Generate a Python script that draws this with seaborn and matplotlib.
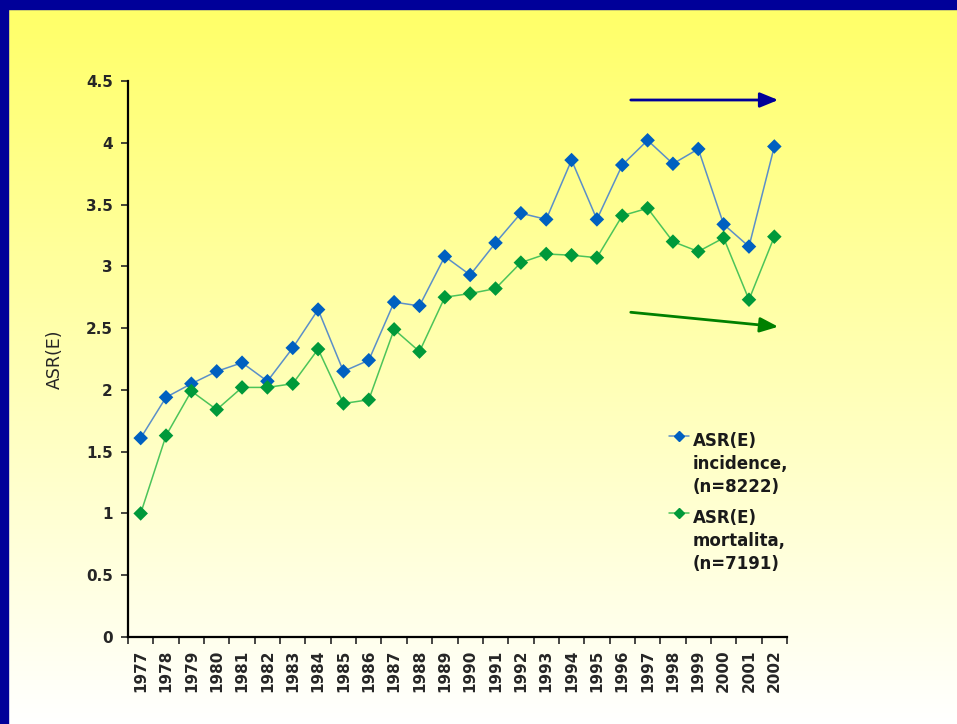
import matplotlib.pyplot as plt
import numpy as np
import pandas as pd
import seaborn as sns

years = list(range(1977, 2003))
incidence = [1.61, 1.94, 2.05, 2.15, 2.22, 2.07, 2.34, 2.65, 2.15, 2.24,
             2.71, 2.68, 3.08, 2.93, 3.19, 3.43, 3.38, 3.86, 3.38, 3.82,
             4.02, 3.83, 3.95, 3.34, 3.16, 3.97]
mortality = [1.00, 1.63, 1.99, 1.84, 2.02, 2.02, 2.05, 2.33, 1.89, 1.92,
             2.49, 2.31, 2.75, 2.78, 2.82, 3.03, 3.10, 3.09, 3.07, 3.41,
             3.47, 3.20, 3.12, 3.23, 2.73, 3.24]
label_inc = "ASR(E)\nincidence,\n(n=8222)"
label_mor = "ASR(E)\nmortalita,\n(n=7191)"

data = pd.DataFrame({"year": years + years,
                     "value": incidence + mortality,
                     "series": [label_inc] * len(years) + [label_mor] * len(years)})

sns.set_style("white")
plt.rcParams["font.family"] = ["DejaVu Sans"]

W, H = 957, 724
fig = plt.figure(figsize=(W / 100, H / 100), dpi=100)

# background: yellow -> white gradient with blue frame on top/left
bg = fig.add_axes([0, 0, 1, 1], zorder=-10)
grad = np.linspace(0, 1, 256).reshape(-1, 1)
top = np.array([1.0, 1.0, 0.40])
bottom = np.array([1.0, 1.0, 1.0])
img = top[None, None, :] * (1 - grad[..., None]) + bottom[None, None, :] * grad[..., None]
bg.imshow(img, aspect="auto", extent=[0, W, H, 0])
bg.add_patch(plt.Rectangle((0, 0), W, 9, color="#000099"))
bg.add_patch(plt.Rectangle((0, 0), 8, H, color="#000099"))
bg.set_xlim(0, W)
bg.set_ylim(H, 0)
bg.axis("off")

ax = fig.add_axes([128 / W, 1 - 637 / H, (787 - 128) / W, (637 - 81) / H])
ax.patch.set_alpha(0)

colors_line = {label_inc: "#5B8FC9", label_mor: "#4CC45A"}
colors_mark = {label_inc: "#0060C0", label_mor: "#00993A"}

sns.lineplot(data=data, x="year", y="value", hue="series",
             palette=colors_line, linewidth=1.1, ax=ax, legend=False)
sns.scatterplot(data=data, x="year", y="value", hue="series", marker="D",
                s=55, palette=colors_mark, linewidth=0, ax=ax, zorder=3,
                legend=False)

ax.set_xlim(1976.5, 2002.5)
ax.set_ylim(0, 4.5)
ax.set_yticks(np.arange(0, 4.51, 0.5))
ax.set_yticklabels(["0", "0.5", "1", "1.5", "2", "2.5", "3", "3.5", "4", "4.5"],
                   fontsize=11, fontweight="bold")
ax.set_xticks(years)
ax.set_xticklabels([str(y) for y in years], rotation=90, fontsize=11,
                   fontweight="bold")
ax.set_xticks(np.arange(1976.5, 2003, 1), minor=True)
ax.tick_params(axis="x", which="major", length=0, pad=9)
ax.tick_params(axis="x", which="minor", length=5, width=1.2, direction="out",
               bottom=True)
ax.tick_params(axis="y", length=5, width=1.2, direction="out", left=True, pad=6)
for s in ["top", "right"]:
    ax.spines[s].set_visible(False)
for s in ["left", "bottom"]:
    ax.spines[s].set_color("black")
    ax.spines[s].set_linewidth(1.6)
ax.set_xlabel("")
ax.set_ylabel("ASR(E)", fontsize=12.5, labelpad=16)

# legend drawn by hand: handle sits beside the first text line
for label, y in [(label_inc, 436), (label_mor, 513)]:
    bg.plot([669, 689], [y, y], color=colors_line[label], lw=1.1)
    bg.plot([679], [y], marker="D", ms=5, color=colors_mark[label])
    bg.text(693, y - 4, label, va="top", ha="left", fontsize=12,
            fontweight="bold", color="#1a1a1a", linespacing=1.35)

# trend arrows
bg.annotate("", xy=(781, 100), xytext=(628, 100),
            arrowprops=dict(arrowstyle="-|>,head_length=1.1,head_width=0.45",
                            color="#000099", lw=2))
bg.annotate("", xy=(781, 327), xytext=(628, 312),
            arrowprops=dict(arrowstyle="-|>,head_length=1.1,head_width=0.45",
                            color="#008000", lw=2))

fig.savefig("out.png", dpi=100)
